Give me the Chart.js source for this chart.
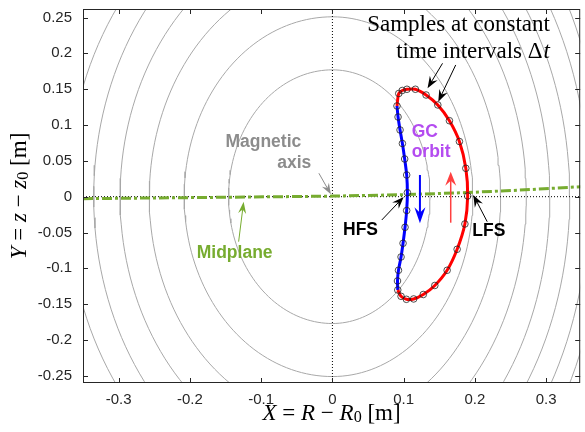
<!DOCTYPE html>
<html>
<head>
<meta charset="utf-8">
<script src="https://cdn.jsdelivr.net/npm/chart.js@4.4.1/dist/chart.umd.min.js"></script>
<style>
  html, body { margin: 0; padding: 0; background: #fff; }
  canvas { display: block; }
</style>
</head>
<body>
<canvas id="chart" width="585" height="432"></canvas>
<script>
// tick labels
var xTicks = [-0.3, -0.2, -0.1, 0, 0.1, 0.2, 0.3];
var yTicks = [-0.25, -0.2, -0.15, -0.1, -0.05, 0, 0.05, 0.1, 0.15, 0.2, 0.25];

// flux surface contours: midplane crossing on the HFS and LFS side, and half height
var contourLeft = [0.1457, 0.208, 0.257, 0.298, 0.335, 0.372, 0.41, 0.45];
var contourRight = [0.137, 0.197, 0.236, 0.272, 0.305, 0.333, 0.36, 0.38];
var contourHalfHeight = [0.177, 0.251, 0.3141, 0.3674, 0.4189, 0.4528, 0.4974, 0.54];

// midplane (slightly tilted)
var midplaneX = [-0.35, -0.2, -0.07, 0, 0.1, 0.19, 0.27, 0.35];
var midplaneY = [-0.0028, -0.0013, 0, 0.0008, 0.0028, 0.0058, 0.0095, 0.014];

// GC orbit samples, low field side (red) from top tip round to bottom tip
var lfsX = [0.0931, 0.0980, 0.1046, 0.1164, 0.1314, 0.1479, 0.1642, 0.1782, 0.1872, 0.1898,
            0.1859, 0.1750, 0.1610, 0.1437, 0.1275, 0.1140, 0.1038, 0.0963, 0.0917];
var lfsY = [0.1440, 0.1482, 0.1499, 0.1499, 0.1419, 0.1280, 0.1060, 0.0770, 0.0396, 0.0010,
            -0.0381, -0.0734, -0.1027, -0.1239, -0.1365, -0.1427, -0.1432, -0.1390, -0.1302];
// high field side (blue) from bottom back up to top
var hfsX = [0.0913, 0.0927, 0.0963, 0.0991, 0.1019, 0.1042, 0.1052, 0.1042, 0.1014, 0.0982,
            0.0949, 0.0921, 0.0906];
var hfsY = [-0.1176, -0.1027, -0.0841, -0.0650, -0.0427, -0.0193, 0.0056, 0.0303, 0.0526, 0.0742,
            0.0931, 0.1112, 0.1266];

var xMin = -0.35, xMax = 0.3477, yMin = -0.26, yMax = 0.2619;

function pts(xs, ys) {
  return xs.map(function (x, i) { return { x: x, y: ys[i] }; });
}

var datasets = [];

// markers on top
datasets.push({
  data: pts(lfsX.concat(hfsX), lfsY.concat(hfsY)),
  showLine: false,
  pointRadius: 3.3,
  pointBorderWidth: 0.8,
  pointBorderColor: "#222",
  pointBackgroundColor: "rgba(0,0,0,0)",
  order: 0
});
// red part
datasets.push({
  data: pts([hfsX[hfsX.length - 1]].concat(lfsX), [hfsY[hfsY.length - 1]].concat(lfsY)),
  showLine: true, borderColor: "#ff0000", borderWidth: 3, pointRadius: 0, tension: 0.3, order: 1
});
// blue part
datasets.push({
  data: pts([lfsX[lfsX.length - 1]].concat(hfsX), [lfsY[lfsY.length - 1]].concat(hfsY)),
  showLine: true, borderColor: "#0000ff", borderWidth: 3, pointRadius: 0, tension: 0.3, order: 2
});
// midplane
datasets.push({
  data: pts(midplaneX, midplaneY),
  showLine: true, borderColor: "#77ac30", borderWidth: 3, borderDash: [10, 3, 3, 3],
  pointRadius: 0, tension: 0, order: 3
});
// dotted axes through the magnetic axis
datasets.push({
  data: [{ x: 0, y: yMin }, { x: 0, y: yMax }],
  showLine: true, borderColor: "#000", borderWidth: 1, borderDash: [1, 2], pointRadius: 0, order: 4
});
datasets.push({
  data: [{ x: xMin, y: 0 }, { x: xMax, y: 0 }],
  showLine: true, borderColor: "#000", borderWidth: 1, borderDash: [1, 2], pointRadius: 0, order: 4
});
// contours, HFS and LFS halves with their own width
contourLeft.forEach(function (aL, k) {
  var p = [];
  for (var d = 0; d <= 360; d += 2) {
    var t = d * Math.PI / 180, c = Math.cos(t);
    p.push({ x: (c > 0 ? contourRight[k] : aL) * c, y: contourHalfHeight[k] * Math.sin(t) });
  }
  datasets.push({
    data: p, showLine: true, borderColor: "#a8a8a8", borderWidth: 1, pointRadius: 0, tension: 0, order: 5
  });
});

// annotations in data coordinates
var notes = {
  arrows: [
    { from: [0.1545, 0.1861], to: [0.1335, 0.1513], color: "#000", w: 1, hl: 12, hw: 9 },
    { from: [0.1730, 0.1838], to: [0.1485, 0.1326], color: "#000", w: 1, hl: 12, hw: 9 },
    { from: [-0.019, 0.0327], to: [-0.0022, 0.0033], color: "#8c8c8c", w: 1, hl: 11, hw: 8 },
    { from: [0.0693, -0.0325], to: [0.1000, -0.0004], color: "#000", w: 1, hl: 12, hw: 9 },
    { from: [0.2172, -0.0349], to: [0.1977, 0.0024], color: "#000", w: 1, hl: 12, hw: 9 },
    { from: [0.1228, 0.0303], to: [0.1228, -0.0371], color: "#0000ff", w: 2, hl: 16, hw: 11 },
    { from: [0.1660, -0.0363], to: [0.1660, 0.0349], color: "#ff4040", w: 1.5, hl: 14, hw: 11 },
    { from: [-0.1316, -0.0628], to: [-0.1246, -0.007], color: "#77ac30", w: 1, hl: 12, hw: 8 }
  ],
  labels: [
    { text: "Magnetic", at: [-0.0437, 0.0767], align: "right", color: "#8c8c8c" },
    { text: "axis", at: [-0.0297, 0.0466], align: "right", color: "#8c8c8c" },
    { text: "GC", at: [0.1112, 0.0907], align: "left", color: "#b44cf0" },
    { text: "orbit", at: [0.1112, 0.0628], align: "left", color: "#b44cf0" },
    { text: "HFS", at: [0.0149, -0.0474], align: "left", color: "#000" },
    { text: "LFS", at: [0.1963, -0.0488], align: "left", color: "#000" },
    { text: "Midplane", at: [-0.1372, -0.079], align: "center", color: "#77ac30" }
  ]
};

function drawArrow(ctx, x1, y1, x2, y2, color, w, hl, hw) {
  var ang = Math.atan2(y2 - y1, x2 - x1), c = Math.cos(ang), s = Math.sin(ang);
  ctx.strokeStyle = color;
  ctx.lineWidth = w;
  ctx.beginPath();
  ctx.moveTo(x1, y1);
  ctx.lineTo(x2 - hl * 0.6 * c, y2 - hl * 0.6 * s);
  ctx.stroke();
  var bx = x2 - hl * c, by = y2 - hl * s;
  ctx.fillStyle = color;
  ctx.beginPath();
  ctx.moveTo(x2, y2);
  ctx.lineTo(bx - s * hw / 2, by + c * hw / 2);
  ctx.lineTo(x2 - hl * 0.65 * c, y2 - hl * 0.65 * s);
  ctx.lineTo(bx + s * hw / 2, by - c * hw / 2);
  ctx.closePath();
  ctx.fill();
}

// draws pieces of text in a row, centred on 0
function drawPieces(ctx, pieces, size) {
  var total = 0;
  pieces.forEach(function (p) {
    ctx.font = (p.it ? "italic " : "") + (p.sub ? size * 0.7 : size) + "px 'Liberation Serif'";
    p.w = ctx.measureText(p.t).width;
    total += p.w;
  });
  var x = -total / 2;
  pieces.forEach(function (p) {
    ctx.font = (p.it ? "italic " : "") + (p.sub ? size * 0.7 : size) + "px 'Liberation Serif'";
    ctx.fillText(p.t, x, p.sub ? 4 : 0);
    x += p.w;
  });
}

var overlay = {
  id: "overlay",
  afterDraw: function (chart) {
    var ctx = chart.ctx, a = chart.chartArea, sx = chart.scales.x, sy = chart.scales.y;
    ctx.save();
    // box and inward ticks
    ctx.strokeStyle = "#262626";
    ctx.lineWidth = 1;
    ctx.strokeRect(a.left + 0.5, a.top + 0.5, a.right - a.left - 1, a.bottom - a.top - 1);
    ctx.beginPath();
    xTicks.forEach(function (v) {
      var px = Math.round(sx.getPixelForValue(v)) + 0.5;
      ctx.moveTo(px, a.bottom); ctx.lineTo(px, a.bottom - 5);
      ctx.moveTo(px, a.top); ctx.lineTo(px, a.top + 5);
    });
    yTicks.forEach(function (v) {
      var py = Math.round(sy.getPixelForValue(v)) + 0.5;
      ctx.moveTo(a.left, py); ctx.lineTo(a.left + 5, py);
      ctx.moveTo(a.right, py); ctx.lineTo(a.right - 5, py);
    });
    ctx.stroke();

    notes.arrows.forEach(function (n) {
      drawArrow(ctx, sx.getPixelForValue(n.from[0]), sy.getPixelForValue(n.from[1]),
        sx.getPixelForValue(n.to[0]), sy.getPixelForValue(n.to[1]), n.color, n.w, n.hl, n.hw);
    });

    ctx.textBaseline = "middle";
    ctx.font = "bold 17.5px 'Liberation Sans'";
    notes.labels.forEach(function (n) {
      ctx.fillStyle = n.color;
      ctx.textAlign = n.align;
      ctx.fillText(n.text, sx.getPixelForValue(n.at[0]), sy.getPixelForValue(n.at[1]));
    });

    // serif note at the top
    ctx.fillStyle = "#000";
    ctx.textAlign = "right";
    ctx.font = "23px 'Liberation Serif'";
    var rx = sx.getPixelForValue(0.3052);
    ctx.fillText("Samples at constant", rx, sy.getPixelForValue(0.2396));
    ctx.font = "italic 23px 'Liberation Serif'";
    var tw = ctx.measureText("t").width;
    ctx.fillText("t", rx, sy.getPixelForValue(0.2019));
    ctx.font = "23px 'Liberation Serif'";
    ctx.fillText("time intervals \u0394", rx - tw - 1, sy.getPixelForValue(0.2019));

    // axis titles
    ctx.textAlign = "left";
    ctx.fillStyle = "#000";
    ctx.save();
    ctx.translate((a.left + a.right) / 2, 414);
    drawPieces(ctx, [{ t: "X", it: true }, { t: " = " }, { t: "R", it: true }, { t: " \u2212 " },
      { t: "R", it: true }, { t: "0", sub: true }, { t: " [m]" }], 23);
    ctx.restore();
    ctx.save();
    ctx.translate(20, (a.top + a.bottom) / 2);
    ctx.rotate(-Math.PI / 2);
    drawPieces(ctx, [{ t: "Y", it: true }, { t: " = " }, { t: "z", it: true }, { t: " \u2212 " },
      { t: "z", it: true }, { t: "0", sub: true }, { t: " [m]" }], 23);
    ctx.restore();
    ctx.restore();
  }
};

function fmt(v) { return String(Number(v.toFixed(2))); }

var chart = new Chart(document.getElementById("chart").getContext("2d"), {
  type: "scatter",
  data: { datasets: datasets },
  options: {
    responsive: false,
    devicePixelRatio: 1,
    animation: false,
    events: [],
    layout: { padding: { left: 0, right: 2, top: 9, bottom: 0 } },
    plugins: { legend: { display: false }, tooltip: { enabled: false } },
    scales: {
      x: {
        type: "linear", min: xMin, max: xMax,
        afterBuildTicks: function (s) { s.ticks = xTicks.map(function (v) { return { value: v }; }); },
        afterFit: function (s) { s.height = 49; s.paddingLeft = 0; s.paddingRight = 0; },
        grid: { display: false, drawTicks: false },
        border: { display: false },
        ticks: { callback: fmt, color: "#262626", font: { family: "'Liberation Sans'", size: 15 }, padding: 8, maxRotation: 0 }
      },
      y: {
        type: "linear", min: yMin, max: yMax,
        afterBuildTicks: function (s) { s.ticks = yTicks.map(function (v) { return { value: v }; }); },
        afterFit: function (s) { s.width = 83; s.paddingTop = 0; s.paddingBottom = 0; },
        grid: { display: false, drawTicks: false },
        border: { display: false },
        ticks: { callback: fmt, color: "#262626", font: { family: "'Liberation Sans'", size: 15 }, padding: 11 }
      }
    }
  },
  plugins: [overlay]
});
</script>
</body>
</html>
